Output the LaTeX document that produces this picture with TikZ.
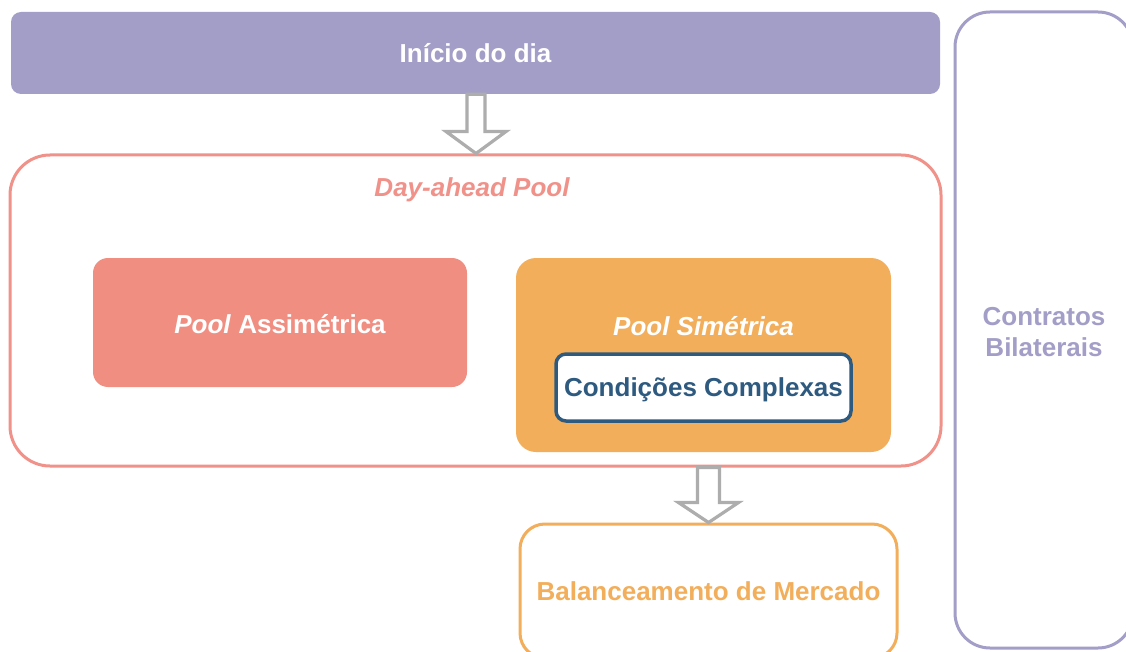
\documentclass[tikz,border=0pt]{standalone}
\usepackage{fontspec}
\setmainfont{Liberation Sans}
\usetikzlibrary{calc}
\definecolor{lav}{HTML}{A39EC7}
\definecolor{salmon}{HTML}{F0918A}
\definecolor{salmonfill}{HTML}{F08E82}
\definecolor{orng}{HTML}{F2AE5A}
\definecolor{navy}{HTML}{2E5A80}
\definecolor{arrgray}{HTML}{ADADAD}
\tikzset{
  lbl/.style={font=\fontsize{26}{31}\selectfont\bfseries, align=center, inner sep=0pt},
  filledbox/.style={rectangle, lbl},
  outlinebox/.style={rectangle, draw, line width=3pt, fill=white, lbl},
  blockarr/.style={draw=arrgray, line width=3.2pt, fill=white, line join=miter},
}
\newcommand\blockarrow[4]{% top, tip, shaft half width, head length
  \path[blockarr] let \p1=(#1), \p2=(#2) in
    (\x2-#3pt,\y1) -- (\x2+#3pt,\y1) -- (\x2+#3pt,\y2+#4pt) -- (\x2+30pt,\y2+#4pt)
    -- (\x2,\y2) -- (\x2-30pt,\y2+#4pt) -- (\x2-#3pt,\y2+#4pt) -- cycle;
}
\begin{document}
\begin{tikzpicture}[x=1pt,y=-1pt]
\useasboundingbox (0,0) rectangle (1126,652);
\clip (0,0) rectangle (1126,652);
\fill[white] (0,0) rectangle (1126,652);

\node[filledbox, fill=lav, text=white, rounded corners=10pt,
      minimum width=929pt, minimum height=82pt] (start) at (475.5,53) {Início do dia};

\node[outlinebox, draw=salmon, rounded corners=40pt,
      minimum width=931pt, minimum height=311pt] (dayahead) at (475.5,310.5) {};
\node[lbl, text=salmon, font=\fontsize{26}{31}\selectfont\bfseries\itshape] (dtitle) at (472,190) {Day-ahead Pool};

\node[filledbox, fill=salmonfill, text=white, rounded corners=15pt,
      minimum width=374pt, minimum height=129pt] (asym) at (280,322.5) {};
\node[lbl, text=white] (asymt) at (280,324) {\textit{Pool} Assimétrica};

\node[filledbox, fill=orng, rounded corners=20pt,
      minimum width=375pt, minimum height=194pt] (sym) at (703.5,355) {};
\node[lbl, text=white, font=\fontsize{26}{31}\selectfont\bfseries\itshape] (symt) at (703.5,326) {Pool Simétrica};

\node[outlinebox, draw=navy, text=navy, line width=3.5pt, rounded corners=10pt, text depth=0pt,
      minimum width=295pt, minimum height=67pt] (cond) at (703.5,387.5) {Condições Complexas};

\node[outlinebox, draw=orng, text=orng, rounded corners=25pt,
      minimum width=377pt, minimum height=134pt] (bal) at (708.5,591) {Balanceamento de Mercado};

\node[outlinebox, draw=lav, rounded corners=35pt,
      minimum width=178pt, minimum height=636pt] (bil) at (1044,330) {};
\node[lbl, text=lav] (bilt) at (1044,332) {Contratos\\Bilaterais};

\coordinate (a1top) at (start.south -| 476,0);
\coordinate (a1tip) at (dayahead.north -| 476,0);
\blockarrow{a1top}{a1tip}{9}{22}

\coordinate (a2top) at (dayahead.south -| bal.north);
\coordinate (a2tip) at (bal.north);
\blockarrow{a2top}{a2tip}{11}{20}
\end{tikzpicture}
\end{document}
